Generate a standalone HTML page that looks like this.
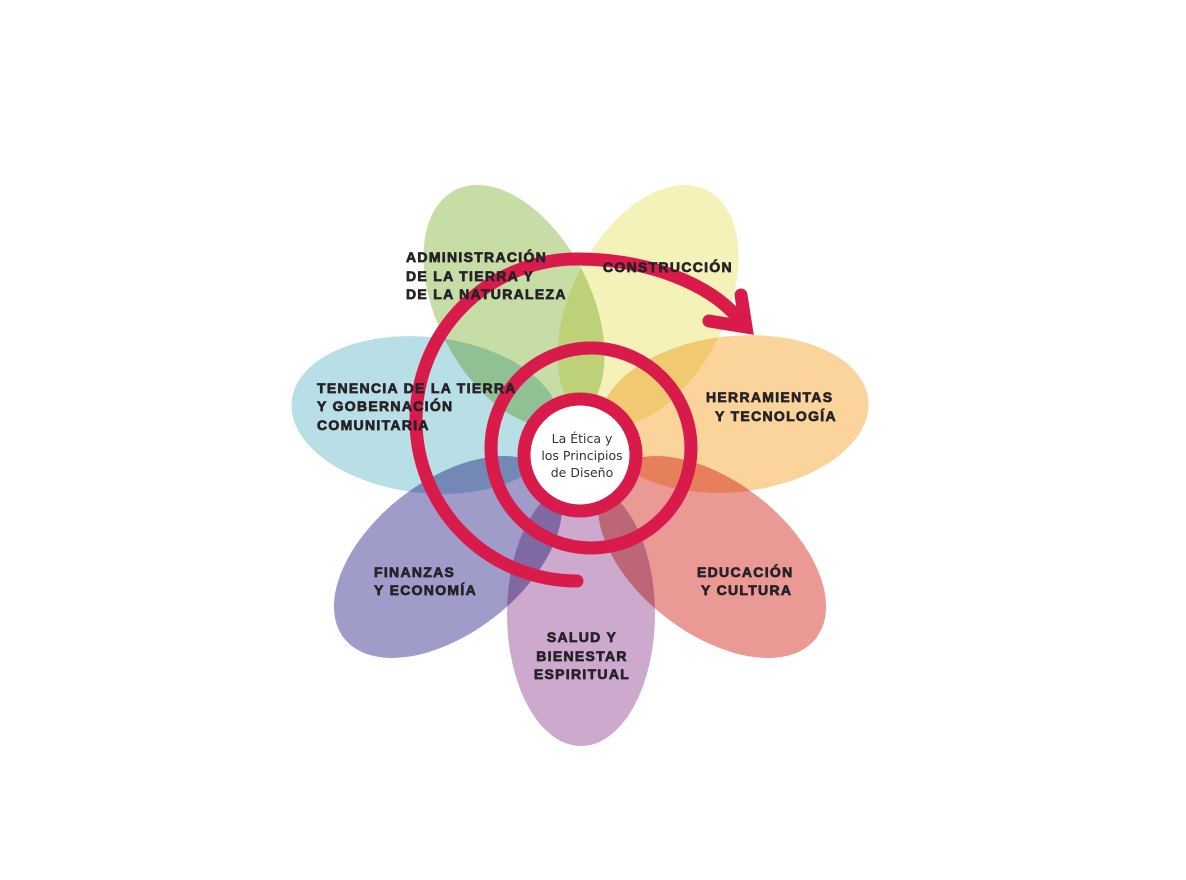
<!DOCTYPE html>
<html><head><meta charset="utf-8"><style>
html,body{margin:0;padding:0;background:#fff;}
svg{display:block}
.l{font-family:"Liberation Sans",sans-serif;font-weight:900;font-size:14px;fill:#262228;letter-spacing:1.3px;stroke:#262228;stroke-width:0.7px}
.c{font-family:"DejaVu Sans",sans-serif;font-size:12.5px;fill:#333;}
.p{mix-blend-mode:multiply}
</style></head><body>
<svg width="1186" height="880" viewBox="0 0 1186 880" xmlns="http://www.w3.org/2000/svg">
<rect width="1186" height="880" fill="#fff"/>
<g>
<ellipse class="p" cx="514" cy="306" rx="130" ry="77" fill="#c6dda6" transform="rotate(63 514 306)"/>
<ellipse class="p" cx="648" cy="306" rx="130" ry="77" fill="#f4f2b8" transform="rotate(-63 648 306)"/>
<ellipse class="p" cx="734" cy="414" rx="135" ry="78" fill="#fbd49b" transform="rotate(-6 734 414)"/>
<ellipse class="p" cx="426" cy="415" rx="135" ry="78" fill="#b8dfe5" transform="rotate(6 426 415)"/>
<ellipse class="p" cx="712" cy="557" rx="132" ry="76" fill="#ea9995" transform="rotate(38 712 557)"/>
<ellipse class="p" cx="448" cy="557" rx="132" ry="76" fill="#9f9cca" transform="rotate(-38 448 557)"/>
<ellipse class="p" cx="581" cy="614" rx="74" ry="132" fill="#cdaacd"/>
</g>
<g fill="none" stroke="#d81b4b" stroke-width="13" stroke-linecap="round">
<circle cx="591" cy="448" r="100"/>
<path d="M577 581 A161 161 0 0 1 577 259 C650 259 710 285 738 318"/>
<path d="M741 295 L746 327 L709 321"/>
<circle cx="580" cy="455" r="56" fill="#fff"/>
</g>
<text class="c" text-anchor="middle"><tspan x="582" y="443">La Ética y</tspan><tspan x="582" y="460">los Principios</tspan><tspan x="582" y="477">de Diseño</tspan></text>
<text class="l"><tspan x="406" y="262">ADMINISTRACIÓN</tspan><tspan x="406" y="281">DE LA TIERRA Y</tspan><tspan x="406" y="299">DE LA NATURALEZA</tspan></text>
<text class="l" x="603" y="272">CONSTRUCCIÓN</text>
<text class="l"><tspan x="317" y="393">TENENCIA DE LA TIERRA</tspan><tspan x="317" y="411">Y GOBERNACIÓN</tspan><tspan x="317" y="430">COMUNITARIA</tspan></text>
<text class="l"><tspan x="706" y="402">HERRAMIENTAS</tspan><tspan x="715" y="421">Y TECNOLOGÍA</tspan></text>
<text class="l"><tspan x="374" y="577">FINANZAS</tspan><tspan x="374" y="595">Y ECONOMÍA</tspan></text>
<text class="l"><tspan x="697" y="577">EDUCACIÓN</tspan><tspan x="701" y="595">Y CULTURA</tspan></text>
<text class="l" text-anchor="middle"><tspan x="582" y="642">SALUD Y</tspan><tspan x="582" y="661">BIENESTAR</tspan><tspan x="582" y="679">ESPIRITUAL</tspan></text>
</svg>
</body></html>
